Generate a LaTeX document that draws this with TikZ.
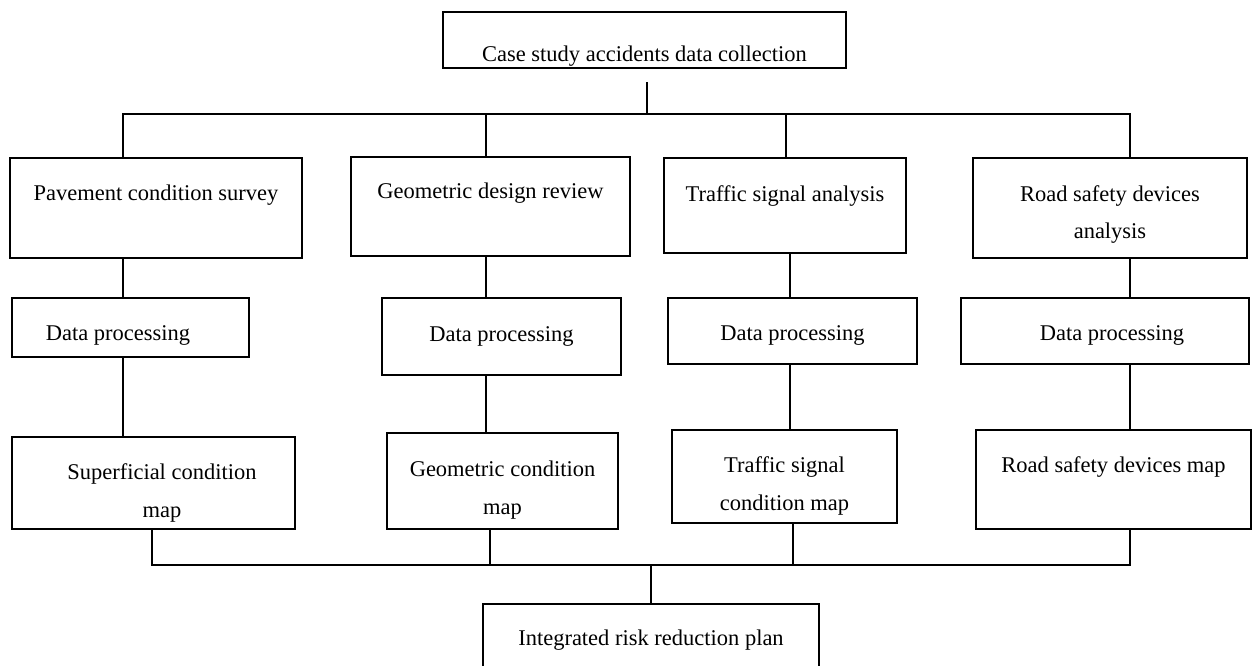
\documentclass[tikz,border=0pt]{standalone}
\usepackage{fontspec}
\setmainfont{Liberation Serif}
\usepackage{tikz}
\renewcommand{\arraystretch}{1.57}
\newcommand{\boxtext}[2]{\raisebox{#1}[0pt][0pt]{\begin{tabular}{@{}c@{}}#2\end{tabular}}}

\begin{document}
\begin{tikzpicture}[x=0.02cm, y=-0.02cm, line width=1.4pt]
        % styles
        \tikzstyle{block} = [rectangle, draw=black, inner sep=0pt, font=\fontsize{12.8}{13.6}\selectfont]
        \tikzstyle{link} = [draw=black, line width=1.4pt]

        \useasboundingbox (0,0) rectangle (1252,666);

        % nodes
        \node (coll) [block, minimum width=8.06cm, minimum height=1.12cm] at (644.5,40) {\boxtext{-10.8pt}{Case study accidents data collection}};

        \node (pav) [block, minimum width=5.84cm, minimum height=2.0cm] at (156,208) {\boxtext{5.8pt}{Pavement condition survey}};
        \node (geo) [block, minimum width=5.58cm, minimum height=1.98cm] at (490.5,206.5) {\boxtext{6.1pt}{Geometric design review}};
        \node (sig) [block, minimum width=4.84cm, minimum height=1.9cm] at (785,205.5) {\boxtext{3.8pt}{Traffic signal analysis}};
        \node (dev) [block, minimum width=5.48cm, minimum height=2.0cm] at (1110,208) {\boxtext{-5.6pt}{Road safety devices\\analysis}};

        \node (proc1) [block, minimum width=4.74cm, minimum height=1.18cm] at (130.5,327.5) {\boxtext{-6.4pt}{\hspace*{-14.2pt}Data processing}};
        \node (proc2) [block, minimum width=4.78cm, minimum height=1.54cm] at (501.5,336.5) {\boxtext{-1.3pt}{Data processing}};
        \node (proc3) [block, minimum width=4.98cm, minimum height=1.32cm] at (792.5,331) {\boxtext{-4.4pt}{Data processing}};
        \node (proc4) [block, minimum width=5.76cm, minimum height=1.32cm] at (1105,331) {\boxtext{-4.4pt}{\hspace*{8pt}Data processing}};

        \node (pavmap) [block, minimum width=5.66cm, minimum height=1.84cm] at (153.5,483) {\boxtext{-7.5pt}{\hspace*{9.6pt}Superficial condition\\\hspace*{9.6pt}map}};
        \node (geomap) [block, minimum width=4.62cm, minimum height=1.92cm] at (502.5,481) {\boxtext{-6.9pt}{Geometric condition\\map}};
        \node (sigmap) [block, minimum width=4.5cm, minimum height=1.86cm] at (784.5,476.5) {\boxtext{-7.2pt}{Traffic signal\\condition map}};
        \node (devmap) [block, minimum width=5.5cm, minimum height=1.98cm] at (1113.5,479.5) {\boxtext{5.5pt}{Road safety devices map}};

        \node (plan) [block, minimum width=6.72cm, minimum height=1.44cm] at (651,640) {\boxtext{-2.1pt}{Integrated risk reduction plan}};

        % bus points
        \coordinate (top) at (647,82);
        \coordinate (tbus) at (647,114);
        \coordinate (bbus) at (651,565);
        \coordinate (k1) at (123,0);
        \coordinate (k1b) at (152,0);
        \coordinate (k2) at (486,0);
        \coordinate (k2b) at (490,0);
        \coordinate (k3) at (786,0);
        \coordinate (k3m) at (790,0);
        \coordinate (k3b) at (793,0);
        \coordinate (k4) at (1130,0);

        % upper bus
        \draw [link] (top) -- (tbus);
        \draw [link] (tbus) -| (pav.north -| k1);
        \draw [link] (tbus) -| (geo.north -| k2);
        \draw [link] (tbus) -| (sig.north -| k3);
        \draw [link] (tbus) -| (dev.north -| k4);

        % columns
        \draw [link] (pav.south -| k1) -- (proc1.north -| k1);
        \draw [link] (proc1.south -| k1) -- (pavmap.north -| k1);
        \draw [link] (geo.south -| k2) -- (proc2.north -| k2);
        \draw [link] (proc2.south -| k2) -- (geomap.north -| k2);
        \draw [link] (sig.south -| k3m) -- (proc3.north -| k3m);
        \draw [link] (proc3.south -| k3m) -- (sigmap.north -| k3m);
        \draw [link] (dev.south -| k4) -- (proc4.north -| k4);
        \draw [link] (proc4.south -| k4) -- (devmap.north -| k4);

        % lower bus
        \draw [link] (pavmap.south -| k1b) |- (bbus);
        \draw [link] (geomap.south -| k2b) |- (bbus);
        \draw [link] (sigmap.south -| k3b) |- (bbus);
        \draw [link] (devmap.south -| k4) |- (bbus);
        \draw [link] (bbus) -- (plan.north -| bbus);

\end{tikzpicture}
\end{document}
